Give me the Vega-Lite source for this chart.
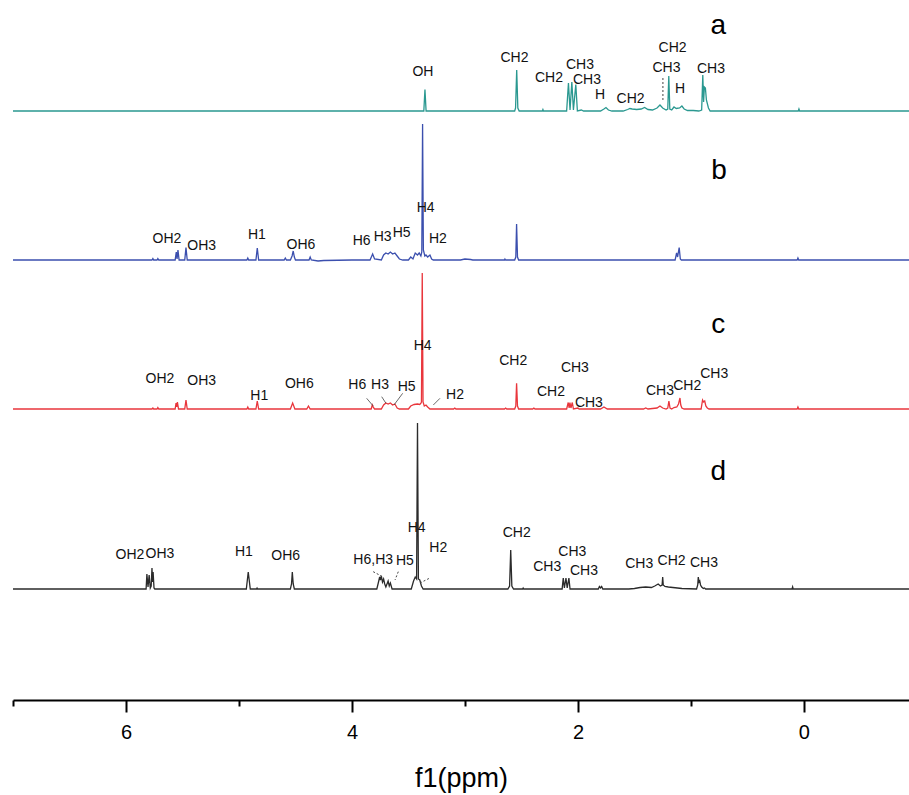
{
  "$schema": "https://vega.github.io/schema/vega-lite/v6.json",
  "width": 896,
  "height": 700,
  "autosize": {"type": "none"},
  "padding": {"left": 13, "top": 0, "right": 0, "bottom": 95},
  "background": "white",
  "config": {"view": {"stroke": null}, "font": "Liberation Sans"},
  "datasets": {
    "spectra": [
      {"s":"a","ppm":7.0,"v":589},{"s":"a","ppm":5.5,"v":589},{"s":"a","ppm":4.2,"v":589},{"s":"a","ppm":3.364,"v":589},{"s":"a","ppm":3.354,"v":610.5},{"s":"a","ppm":3.344,"v":589},
      {"s":"a","ppm":2.56,"v":589},{"s":"a","ppm":2.552,"v":592},{"s":"a","ppm":2.542,"v":630},{"s":"a","ppm":2.532,"v":592},{"s":"a","ppm":2.52,"v":589},
      {"s":"a","ppm":2.315,"v":589},{"s":"a","ppm":2.31,"v":590.5},{"s":"a","ppm":2.305,"v":589},
      {"s":"a","ppm":2.1,"v":589},{"s":"a","ppm":2.084,"v":617},{"s":"a","ppm":2.07,"v":590},{"s":"a","ppm":2.054,"v":618},{"s":"a","ppm":2.04,"v":590},{"s":"a","ppm":2.019,"v":615.5},{"s":"a","ppm":2.005,"v":589},
      {"s":"a","ppm":1.97,"v":590},{"s":"a","ppm":1.95,"v":589},
      {"s":"a","ppm":1.8,"v":589},{"s":"a","ppm":1.77,"v":591},{"s":"a","ppm":1.752,"v":592.5},{"s":"a","ppm":1.73,"v":590},{"s":"a","ppm":1.7,"v":589},
      {"s":"a","ppm":1.6,"v":589},{"s":"a","ppm":1.56,"v":590.5},{"s":"a","ppm":1.54,"v":591.5},{"s":"a","ppm":1.52,"v":591},{"s":"a","ppm":1.48,"v":590.5},{"s":"a","ppm":1.44,"v":591},{"s":"a","ppm":1.41,"v":592.5},{"s":"a","ppm":1.38,"v":590.5},{"s":"a","ppm":1.34,"v":590},{"s":"a","ppm":1.3,"v":592},{"s":"a","ppm":1.274,"v":595},{"s":"a","ppm":1.25,"v":592},{"s":"a","ppm":1.22,"v":590},{"s":"a","ppm":1.205,"v":591},{"s":"a","ppm":1.196,"v":624},{"s":"a","ppm":1.187,"v":591},{"s":"a","ppm":1.17,"v":590},{"s":"a","ppm":1.15,"v":593},{"s":"a","ppm":1.13,"v":591.5},{"s":"a","ppm":1.1,"v":592},{"s":"a","ppm":1.08,"v":594},{"s":"a","ppm":1.06,"v":591},{"s":"a","ppm":1.03,"v":589.5},{"s":"a","ppm":0.98,"v":589.5},{"s":"a","ppm":0.93,"v":589},
      {"s":"a","ppm":0.905,"v":590},{"s":"a","ppm":0.895,"v":625},{"s":"a","ppm":0.888,"v":598},{"s":"a","ppm":0.881,"v":613},{"s":"a","ppm":0.872,"v":612},{"s":"a","ppm":0.863,"v":600},{"s":"a","ppm":0.845,"v":592},{"s":"a","ppm":0.83,"v":589},
      {"s":"a","ppm":0.05,"v":589},{"s":"a","ppm":0.044,"v":591},{"s":"a","ppm":0.038,"v":589},{"s":"a","ppm":-0.93,"v":589},

      {"s":"b","ppm":7.0,"v":440},{"s":"b","ppm":6.3,"v":440},{"s":"b","ppm":5.77,"v":440},{"s":"b","ppm":5.762,"v":441.5},{"s":"b","ppm":5.755,"v":440},{"s":"b","ppm":5.725,"v":440},{"s":"b","ppm":5.718,"v":441.5},{"s":"b","ppm":5.71,"v":440},
      {"s":"b","ppm":5.565,"v":440},{"s":"b","ppm":5.555,"v":448},{"s":"b","ppm":5.548,"v":441},{"s":"b","ppm":5.54,"v":450},{"s":"b","ppm":5.53,"v":440},
      {"s":"b","ppm":5.48,"v":440},{"s":"b","ppm":5.469,"v":452.5},{"s":"b","ppm":5.458,"v":440},
      {"s":"b","ppm":4.93,"v":440},{"s":"b","ppm":4.922,"v":442},{"s":"b","ppm":4.914,"v":440},
      {"s":"b","ppm":4.85,"v":440},{"s":"b","ppm":4.838,"v":452},{"s":"b","ppm":4.826,"v":440},
      {"s":"b","ppm":4.6,"v":440},{"s":"b","ppm":4.59,"v":442},{"s":"b","ppm":4.58,"v":440},
      {"s":"b","ppm":4.545,"v":440},{"s":"b","ppm":4.53,"v":444},{"s":"b","ppm":4.52,"v":449},{"s":"b","ppm":4.51,"v":443},{"s":"b","ppm":4.5,"v":440},
      {"s":"b","ppm":4.38,"v":440},{"s":"b","ppm":4.37,"v":443},{"s":"b","ppm":4.36,"v":440},{"s":"b","ppm":4.3,"v":439},{"s":"b","ppm":4.25,"v":439.5},{"s":"b","ppm":4.0,"v":440},
      {"s":"b","ppm":3.84,"v":440},{"s":"b","ppm":3.817,"v":446},{"s":"b","ppm":3.8,"v":441},
      {"s":"b","ppm":3.74,"v":440},{"s":"b","ppm":3.72,"v":445},{"s":"b","ppm":3.7,"v":447},{"s":"b","ppm":3.68,"v":446},{"s":"b","ppm":3.66,"v":448},{"s":"b","ppm":3.64,"v":446},{"s":"b","ppm":3.62,"v":447},{"s":"b","ppm":3.6,"v":444},{"s":"b","ppm":3.58,"v":441},{"s":"b","ppm":3.55,"v":440},
      {"s":"b","ppm":3.5,"v":440},{"s":"b","ppm":3.48,"v":443},{"s":"b","ppm":3.46,"v":441},{"s":"b","ppm":3.44,"v":447},{"s":"b","ppm":3.42,"v":445},{"s":"b","ppm":3.405,"v":447},{"s":"b","ppm":3.39,"v":444},
      {"s":"b","ppm":3.382,"v":448},{"s":"b","ppm":3.375,"v":576},{"s":"b","ppm":3.368,"v":450},{"s":"b","ppm":3.355,"v":444},{"s":"b","ppm":3.345,"v":445},{"s":"b","ppm":3.33,"v":443},{"s":"b","ppm":3.31,"v":445},{"s":"b","ppm":3.295,"v":441},{"s":"b","ppm":3.28,"v":440},
      {"s":"b","ppm":3.04,"v":440},{"s":"b","ppm":3.0,"v":441},{"s":"b","ppm":2.95,"v":440.5},{"s":"b","ppm":2.93,"v":440},
      {"s":"b","ppm":2.65,"v":440},{"s":"b","ppm":2.646,"v":441},{"s":"b","ppm":2.64,"v":440},
      {"s":"b","ppm":2.56,"v":440},{"s":"b","ppm":2.55,"v":443},{"s":"b","ppm":2.543,"v":476},{"s":"b","ppm":2.535,"v":443},{"s":"b","ppm":2.525,"v":440},
      {"s":"b","ppm":1.14,"v":440},{"s":"b","ppm":1.127,"v":447},{"s":"b","ppm":1.118,"v":443},{"s":"b","ppm":1.104,"v":452.5},{"s":"b","ppm":1.094,"v":441},{"s":"b","ppm":1.085,"v":440},
      {"s":"b","ppm":0.06,"v":440},{"s":"b","ppm":0.053,"v":442},{"s":"b","ppm":0.046,"v":440},{"s":"b","ppm":-0.93,"v":440},

      {"s":"c","ppm":7.0,"v":291},{"s":"c","ppm":6.3,"v":291},{"s":"c","ppm":5.77,"v":291},{"s":"c","ppm":5.762,"v":292},{"s":"c","ppm":5.755,"v":291},{"s":"c","ppm":5.725,"v":291},{"s":"c","ppm":5.718,"v":292.5},{"s":"c","ppm":5.71,"v":291},
      {"s":"c","ppm":5.565,"v":291},{"s":"c","ppm":5.557,"v":297},{"s":"c","ppm":5.551,"v":293},{"s":"c","ppm":5.545,"v":298},{"s":"c","ppm":5.535,"v":291},
      {"s":"c","ppm":5.48,"v":291},{"s":"c","ppm":5.469,"v":300},{"s":"c","ppm":5.458,"v":291},
      {"s":"c","ppm":4.93,"v":291},{"s":"c","ppm":4.922,"v":293},{"s":"c","ppm":4.914,"v":291},
      {"s":"c","ppm":4.85,"v":291},{"s":"c","ppm":4.838,"v":299},{"s":"c","ppm":4.826,"v":291},
      {"s":"c","ppm":4.545,"v":291},{"s":"c","ppm":4.525,"v":297},{"s":"c","ppm":4.505,"v":291},
      {"s":"c","ppm":4.4,"v":291},{"s":"c","ppm":4.385,"v":294},{"s":"c","ppm":4.37,"v":291},
      {"s":"c","ppm":3.83,"v":291},{"s":"c","ppm":3.82,"v":295},{"s":"c","ppm":3.81,"v":292.5},{"s":"c","ppm":3.8,"v":291},
      {"s":"c","ppm":3.74,"v":291},{"s":"c","ppm":3.72,"v":295},{"s":"c","ppm":3.7,"v":297},{"s":"c","ppm":3.68,"v":296},{"s":"c","ppm":3.66,"v":297},{"s":"c","ppm":3.64,"v":295},{"s":"c","ppm":3.62,"v":296},{"s":"c","ppm":3.6,"v":292},{"s":"c","ppm":3.58,"v":291},
      {"s":"c","ppm":3.5,"v":291},{"s":"c","ppm":3.48,"v":294},{"s":"c","ppm":3.45,"v":295.5},{"s":"c","ppm":3.42,"v":296},{"s":"c","ppm":3.4,"v":295.5},{"s":"c","ppm":3.388,"v":297},
      {"s":"c","ppm":3.385,"v":298},{"s":"c","ppm":3.378,"v":427},{"s":"c","ppm":3.371,"v":298},{"s":"c","ppm":3.36,"v":294},{"s":"c","ppm":3.345,"v":295},{"s":"c","ppm":3.33,"v":293},{"s":"c","ppm":3.31,"v":291},
      {"s":"c","ppm":3.1,"v":291},{"s":"c","ppm":3.09,"v":292},{"s":"c","ppm":3.08,"v":291},
      {"s":"c","ppm":2.65,"v":291},{"s":"c","ppm":2.64,"v":292},{"s":"c","ppm":2.63,"v":291},
      {"s":"c","ppm":2.56,"v":291},{"s":"c","ppm":2.55,"v":294},{"s":"c","ppm":2.543,"v":316.7},{"s":"c","ppm":2.535,"v":294},{"s":"c","ppm":2.525,"v":291},
      {"s":"c","ppm":2.4,"v":291},{"s":"c","ppm":2.39,"v":292},{"s":"c","ppm":2.38,"v":291},
      {"s":"c","ppm":2.1,"v":291},{"s":"c","ppm":2.086,"v":297.5},{"s":"c","ppm":2.078,"v":292},{"s":"c","ppm":2.071,"v":297.5},{"s":"c","ppm":2.062,"v":292},{"s":"c","ppm":2.05,"v":297.5},{"s":"c","ppm":2.04,"v":291},
      {"s":"c","ppm":2.0,"v":292},{"s":"c","ppm":1.99,"v":291},
      {"s":"c","ppm":1.8,"v":291},{"s":"c","ppm":1.77,"v":293},{"s":"c","ppm":1.74,"v":291},
      {"s":"c","ppm":1.42,"v":291},{"s":"c","ppm":1.4,"v":292},{"s":"c","ppm":1.38,"v":291},
      {"s":"c","ppm":1.3,"v":292},{"s":"c","ppm":1.274,"v":294},{"s":"c","ppm":1.25,"v":292},{"s":"c","ppm":1.22,"v":291},
      {"s":"c","ppm":1.205,"v":292},{"s":"c","ppm":1.195,"v":299},{"s":"c","ppm":1.185,"v":292},{"s":"c","ppm":1.17,"v":291},
      {"s":"c","ppm":1.15,"v":292.5},{"s":"c","ppm":1.125,"v":293},{"s":"c","ppm":1.11,"v":296},{"s":"c","ppm":1.097,"v":302},{"s":"c","ppm":1.09,"v":295},{"s":"c","ppm":1.08,"v":292},{"s":"c","ppm":1.06,"v":291},
      {"s":"c","ppm":0.91,"v":291},{"s":"c","ppm":0.897,"v":300},{"s":"c","ppm":0.888,"v":298},{"s":"c","ppm":0.878,"v":299},{"s":"c","ppm":0.868,"v":294},{"s":"c","ppm":0.855,"v":292},{"s":"c","ppm":0.84,"v":291},
      {"s":"c","ppm":0.06,"v":291},{"s":"c","ppm":0.053,"v":293},{"s":"c","ppm":0.046,"v":291},{"s":"c","ppm":-0.93,"v":291},

      {"s":"d","ppm":7.0,"v":111},{"s":"d","ppm":5.83,"v":111},{"s":"d","ppm":5.822,"v":111},{"s":"d","ppm":5.815,"v":126},{"s":"d","ppm":5.805,"v":113},{"s":"d","ppm":5.795,"v":125},{"s":"d","ppm":5.785,"v":112},{"s":"d","ppm":5.777,"v":114},{"s":"d","ppm":5.77,"v":132},{"s":"d","ppm":5.765,"v":118},{"s":"d","ppm":5.76,"v":128},{"s":"d","ppm":5.752,"v":112},{"s":"d","ppm":5.745,"v":111},
      {"s":"d","ppm":4.935,"v":111},{"s":"d","ppm":4.918,"v":128},{"s":"d","ppm":4.9,"v":111},{"s":"d","ppm":4.845,"v":111},{"s":"d","ppm":4.84,"v":112},{"s":"d","ppm":4.835,"v":111},
      {"s":"d","ppm":4.545,"v":111},{"s":"d","ppm":4.535,"v":116},{"s":"d","ppm":4.528,"v":128},{"s":"d","ppm":4.52,"v":116},{"s":"d","ppm":4.51,"v":111},
      {"s":"d","ppm":3.78,"v":111},{"s":"d","ppm":3.765,"v":118},{"s":"d","ppm":3.755,"v":123},{"s":"d","ppm":3.748,"v":120},{"s":"d","ppm":3.74,"v":124},{"s":"d","ppm":3.73,"v":118},{"s":"d","ppm":3.72,"v":121},{"s":"d","ppm":3.71,"v":116},{"s":"d","ppm":3.7,"v":113},{"s":"d","ppm":3.69,"v":116},{"s":"d","ppm":3.68,"v":119},{"s":"d","ppm":3.67,"v":114},{"s":"d","ppm":3.66,"v":117},{"s":"d","ppm":3.645,"v":111},
      {"s":"d","ppm":3.475,"v":111},{"s":"d","ppm":3.455,"v":119},{"s":"d","ppm":3.44,"v":123},{"s":"d","ppm":3.428,"v":121},{"s":"d","ppm":3.42,"v":277},{"s":"d","ppm":3.412,"v":121},{"s":"d","ppm":3.4,"v":120},{"s":"d","ppm":3.385,"v":114},{"s":"d","ppm":3.37,"v":111},
      {"s":"d","ppm":2.62,"v":111},{"s":"d","ppm":2.605,"v":114},{"s":"d","ppm":2.595,"v":150},{"s":"d","ppm":2.585,"v":114},{"s":"d","ppm":2.57,"v":111},
      {"s":"d","ppm":2.49,"v":111},{"s":"d","ppm":2.485,"v":112},{"s":"d","ppm":2.48,"v":111},
      {"s":"d","ppm":2.14,"v":111},{"s":"d","ppm":2.13,"v":122},{"s":"d","ppm":2.12,"v":112},{"s":"d","ppm":2.106,"v":122},{"s":"d","ppm":2.095,"v":112},{"s":"d","ppm":2.08,"v":122},{"s":"d","ppm":2.07,"v":111},
      {"s":"d","ppm":1.82,"v":111},{"s":"d","ppm":1.81,"v":113.5},{"s":"d","ppm":1.8,"v":112},{"s":"d","ppm":1.79,"v":113.5},{"s":"d","ppm":1.78,"v":111},
      {"s":"d","ppm":1.55,"v":111},{"s":"d","ppm":1.5,"v":111.5},{"s":"d","ppm":1.45,"v":112.5},{"s":"d","ppm":1.4,"v":113},{"s":"d","ppm":1.35,"v":112.5},{"s":"d","ppm":1.32,"v":114},{"s":"d","ppm":1.29,"v":116},{"s":"d","ppm":1.27,"v":114},{"s":"d","ppm":1.255,"v":115},{"s":"d","ppm":1.25,"v":123},{"s":"d","ppm":1.245,"v":115},{"s":"d","ppm":1.23,"v":113.5},{"s":"d","ppm":1.2,"v":113},{"s":"d","ppm":1.16,"v":112.5},{"s":"d","ppm":1.12,"v":112},{"s":"d","ppm":1.08,"v":111.5},
      {"s":"d","ppm":0.95,"v":111},{"s":"d","ppm":0.94,"v":115},{"s":"d","ppm":0.935,"v":123},{"s":"d","ppm":0.928,"v":118},{"s":"d","ppm":0.922,"v":119},{"s":"d","ppm":0.915,"v":115},{"s":"d","ppm":0.905,"v":113},{"s":"d","ppm":0.89,"v":111.5},{"s":"d","ppm":0.88,"v":112},{"s":"d","ppm":0.87,"v":111},
      {"s":"d","ppm":0.105,"v":111},{"s":"d","ppm":0.1,"v":113},{"s":"d","ppm":0.095,"v":111},{"s":"d","ppm":-0.93,"v":111}
    ],
    "peakLabels": [
      {"s":"a","ppm":3.372,"v":628.4,"t":"OH"},{"s":"a","ppm":2.562,"v":642,"t":"CH2"},{"s":"a","ppm":2.257,"v":622,"t":"CH2"},{"s":"a","ppm":1.982,"v":635,"t":"CH3"},{"s":"a","ppm":1.92,"v":620,"t":"CH3"},{"s":"a","ppm":1.805,"v":605.4,"t":"H"},{"s":"a","ppm":1.534,"v":601.4,"t":"CH2"},{"s":"a","ppm":1.163,"v":652,"t":"CH2"},{"s":"a","ppm":1.217,"v":632.4,"t":"CH3"},{"s":"a","ppm":1.097,"v":611.5,"t":"H"},{"s":"a","ppm":0.823,"v":631,"t":"CH3"},
      {"s":"b","ppm":5.637,"v":461,"t":"OH2"},{"s":"b","ppm":5.33,"v":454,"t":"OH3"},{"s":"b","ppm":4.841,"v":465,"t":"H1"},{"s":"b","ppm":4.451,"v":455,"t":"OH6"},{"s":"b","ppm":3.914,"v":459.3,"t":"H6"},{"s":"b","ppm":3.728,"v":463,"t":"H3"},{"s":"b","ppm":3.56,"v":467.3,"t":"H5"},{"s":"b","ppm":3.348,"v":492,"t":"H4"},{"s":"b","ppm":3.239,"v":461,"t":"H2"},
      {"s":"c","ppm":5.699,"v":320.7,"t":"OH2"},{"s":"c","ppm":5.33,"v":319,"t":"OH3"},{"s":"c","ppm":4.82,"v":304.3,"t":"H1"},{"s":"c","ppm":4.466,"v":316,"t":"OH6"},{"s":"c","ppm":3.953,"v":315,"t":"H6"},{"s":"c","ppm":3.752,"v":315,"t":"H3"},{"s":"c","ppm":3.516,"v":313.3,"t":"H5"},{"s":"c","ppm":3.374,"v":354,"t":"H4"},{"s":"c","ppm":3.088,"v":305,"t":"H2"},{"s":"c","ppm":2.573,"v":339.3,"t":"CH2"},{"s":"c","ppm":2.027,"v":332.3,"t":"CH3"},{"s":"c","ppm":2.239,"v":308.3,"t":"CH2"},{"s":"c","ppm":1.903,"v":297.3,"t":"CH3"},{"s":"c","ppm":1.274,"v":309.3,"t":"CH3"},{"s":"c","ppm":1.033,"v":314.3,"t":"CH2"},{"s":"c","ppm":0.794,"v":325.7,"t":"CH3"},
      {"s":"d","ppm":5.965,"v":145,"t":"OH2"},{"s":"d","ppm":5.699,"v":146,"t":"OH3"},{"s":"d","ppm":4.956,"v":147.7,"t":"H1"},{"s":"d","ppm":4.587,"v":144.3,"t":"OH6"},{"s":"d","ppm":3.812,"v":140,"t":"H6,H3"},{"s":"d","ppm":3.531,"v":139,"t":"H5"},{"s":"d","ppm":3.427,"v":171.7,"t":"H4"},{"s":"d","ppm":3.236,"v":152.3,"t":"H2"},{"s":"d","ppm":2.542,"v":166.7,"t":"CH2"},{"s":"d","ppm":2.05,"v":148.3,"t":"CH3"},{"s":"d","ppm":2.272,"v":133.3,"t":"CH3"},{"s":"d","ppm":1.947,"v":129.3,"t":"CH3"},{"s":"d","ppm":1.458,"v":136,"t":"CH3"},{"s":"d","ppm":1.171,"v":139.3,"t":"CH2"},{"s":"d","ppm":0.885,"v":137.3,"t":"CH3"}
    ],
    "letters": [
      {"ppm":0.757,"v":666,"t":"a"},{"ppm":0.752,"v":520.7,"t":"b"},{"ppm":0.758,"v":367.3,"t":"c"},{"ppm":0.758,"v":220,"t":"d"}
    ],
    "leaders": [
      {"s":"a","p1":1.248,"v1":622,"p2":1.248,"v2":599},
      {"s":"c","p1":3.87,"v1":301.7,"p2":3.812,"v2":294},
      {"s":"c","p1":3.737,"v1":303.3,"p2":3.699,"v2":296.7},
      {"s":"c","p1":3.551,"v1":306.7,"p2":3.628,"v2":295},
      {"s":"c","p1":3.221,"v1":301.7,"p2":3.28,"v2":295},
      {"s":"d","p1":3.812,"v1":128.3,"p2":3.728,"v2":123.3},
      {"s":"d","p1":3.59,"v1":128.3,"p2":3.619,"v2":120},
      {"s":"d","p1":3.398,"v1":117,"p2":3.31,"v2":122}
    ]
  },
  "layer": [
    {
      "data": {"name": "spectra"},
      "mark": {"type": "line", "strokeWidth": 1.3},
      "encoding": {
        "x": {"field": "ppm", "type": "quantitative",
              "scale": {"domain": [7, -0.93], "nice": false, "zero": false},
              "axis": {"orient": "bottom", "values": [6, 4, 2, 0], "title": "f1(ppm)", "grid": false,
                       "domainColor": "#000", "domainWidth": 2.2, "tickColor": "#000", "tickWidth": 2, "tickSize": 12,
                       "labelFontSize": 20, "labelColor": "#000", "labelPadding": 10, "labelFlush": false,
                       "titleFontSize": 27, "titleFontWeight": "normal", "titleColor": "#000", "titlePadding": 23}},
        "y": {"field": "v", "type": "quantitative", "scale": {"domain": [0, 700], "nice": false, "zero": false}, "axis": null},
        "color": {"field": "s", "type": "nominal", "scale": {"domain": ["a", "b", "c", "d"], "range": ["#2a9890", "#3b4fae", "#e9363c", "#2b2b2b"]}, "legend": null}
      }
    },
    {
      "data": {"name": "leaders"},
      "transform": [{"filter": "datum.s === 'c'"}],
      "mark": {"type": "rule", "strokeWidth": 0.8, "color": "#444"},
      "encoding": {
        "x": {"field": "p1", "type": "quantitative", "axis": null},
        "x2": {"field": "p2"},
        "y": {"field": "v1", "type": "quantitative"},
        "y2": {"field": "v2"}
      }
    },
    {
      "data": {"name": "leaders"},
      "transform": [{"filter": "datum.s !== 'c'"}],
      "mark": {"type": "rule", "strokeWidth": 1, "color": "#444", "strokeDash": [2, 2]},
      "encoding": {
        "x": {"field": "p1", "type": "quantitative", "axis": null},
        "x2": {"field": "p2"},
        "y": {"field": "v1", "type": "quantitative"},
        "y2": {"field": "v2"}
      }
    },
    {
      "data": {"name": "peakLabels"},
      "mark": {"type": "text", "fontSize": 14, "color": "#111", "baseline": "middle", "align": "center"},
      "encoding": {
        "x": {"field": "ppm", "type": "quantitative",
              "axis": {"orient": "bottom", "values": [7, 5, 3, 1], "labels": false, "domain": false, "title": null, "grid": false,
                       "tickColor": "#000", "tickWidth": 2, "tickSize": 6}},
        "y": {"field": "v", "type": "quantitative"},
        "text": {"field": "t", "type": "nominal"}
      }
    },
    {
      "data": {"name": "letters"},
      "mark": {"type": "text", "fontSize": 28, "color": "#000", "baseline": "alphabetic", "align": "center"},
      "encoding": {
        "x": {"field": "ppm", "type": "quantitative", "axis": null},
        "y": {"field": "v", "type": "quantitative"},
        "text": {"field": "t", "type": "nominal"}
      }
    }
  ],
  "resolve": {"axis": {"x": "independent"}}
}
